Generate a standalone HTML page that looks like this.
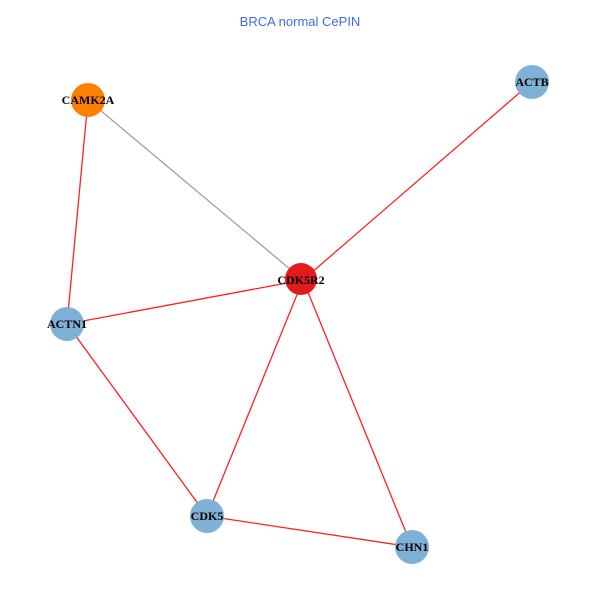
<!DOCTYPE html>
<html><head><style>body{margin:0;background:#fff}</style></head><body>
<svg width="600" height="600" xmlns="http://www.w3.org/2000/svg">
<rect width="600" height="600" fill="#fff"/>
<text x="300" y="26" text-anchor="middle" font-family="Liberation Sans, sans-serif" font-size="13" fill="#3f6ae6">BRCA normal CePIN</text>
<g stroke-width="1.3">
<line x1="88" y1="100" x2="303" y2="280" stroke="#a0a0a0"/>
<line x1="88" y1="100" x2="67" y2="324" stroke="#ff2020"/>
<line x1="532" y1="82" x2="303" y2="280" stroke="#ff2020"/>
<line x1="303" y1="280" x2="67" y2="324" stroke="#ff2020"/>
<line x1="303" y1="280" x2="207" y2="516" stroke="#ff2020"/>
<line x1="303" y1="280" x2="412" y2="547" stroke="#ff2020"/>
<line x1="67" y1="324" x2="207" y2="516" stroke="#ff2020"/>
<line x1="207" y1="516" x2="412" y2="547" stroke="#ff2020"/>
</g>
<g>
<circle cx="88" cy="100" r="17" fill="#ff8000"/>
<circle cx="532" cy="82" r="17" fill="#7fb0d5"/>
<circle cx="301" cy="279" r="16" fill="#e41a1c"/>
<circle cx="67" cy="324" r="17" fill="#7fb0d5"/>
<circle cx="207" cy="516" r="17" fill="#7fb0d5"/>
<circle cx="412" cy="547" r="17" fill="#7fb0d5"/>
</g>
<g font-family="Liberation Serif, serif" font-weight="bold" font-size="12" text-anchor="middle" fill="#000">
<text x="88" y="104">CAMK2A</text>
<text x="532" y="86">ACTB</text>
<text x="301" y="284">CDK5R2</text>
<text x="67" y="328">ACTN1</text>
<text x="207" y="520">CDK5</text>
<text x="412" y="551">CHN1</text>
</g>
</svg>
</body></html>
